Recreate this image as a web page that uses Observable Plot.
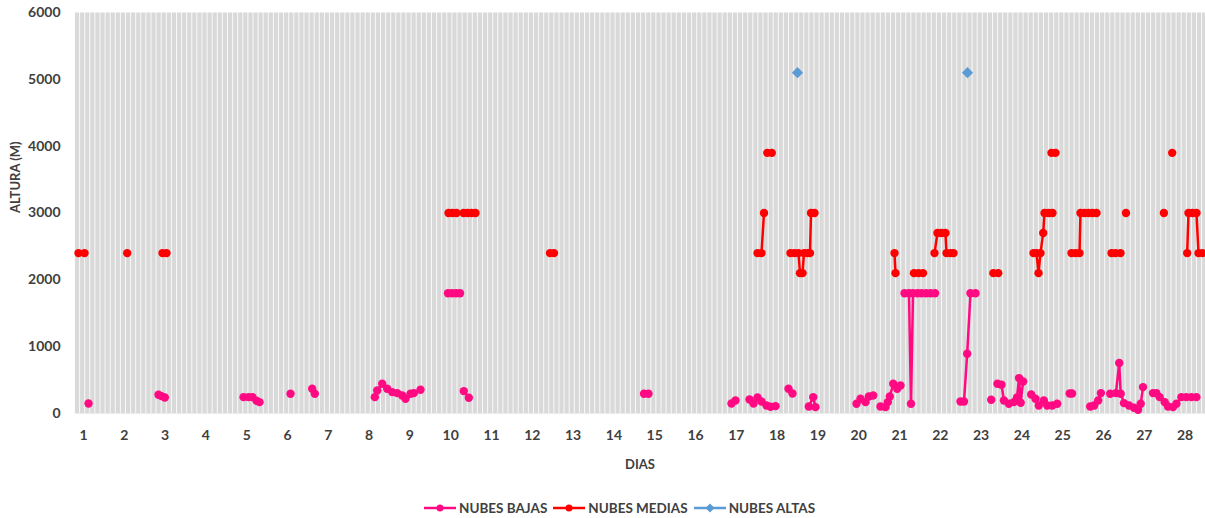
<!DOCTYPE html>
<html>
<head>
<meta charset="utf-8">
<script src="https://cdn.jsdelivr.net/npm/d3@7"></script>
<script src="https://cdn.jsdelivr.net/npm/@observablehq/plot@0.6"></script>
<style>
  html, body { margin: 0; padding: 0; background: #fff; }
  body { width: 1205px; height: 518px; overflow: hidden; font-family: Lato, "Open Sans", sans-serif; }
  #legend { display: flex; align-items: center; margin-left: 424px; margin-top: 20px; font-weight: 700; font-size: 13.5px; color: #404040; }
  #legend .item { display: flex; align-items: center; margin-right: 6px; }
  #legend svg { margin-right: 3px; }
</style>
</head>
<body>
<div id="chart"></div>
<div id="legend"></div>
<script>
// ---- data (day, altitude in m); null = gap in series ----
const bajasDia = [
  1.123, null,
  2.838, 2.912, 2.993, null,
  4.922, 5.044, 5.142, 5.240, 5.314, null,
  6.074, null,
  6.605, 6.669, null,
  8.140, 8.199, 8.321, 8.444, 8.566, 8.689, 8.811, 8.892, 9.015, 9.096, 9.260, null,
  9.934, 10.032, 10.130, 10.228, null,
  10.321, 10.444, null,
  14.738, 14.848, null,
  16.882, 16.980, null,
  17.324, 17.422, 17.520, 17.618, 17.740, 17.838, 17.961, null,
  18.279, 18.377, null,
  18.777, 18.885, 18.941, null,
  19.946, 20.044, 20.167, 20.248, 20.355, null,
  20.534, 20.657, 20.713, 20.762, 20.846, 20.944, 21.025, null,
  21.123, 21.233, 21.282, 21.331, 21.441, 21.539, 21.650, 21.760, 21.870, null,
  22.495, 22.581, 22.659, 22.740, 22.863, null,
  23.248, null,
  23.40, 23.50, 23.56, 23.68, 23.80, 23.88, 23.93, 23.97, 24.03, null,
  24.228, 24.333, 24.414, 24.537, 24.620, 24.743, 24.865, null,
  25.17, 25.23, null,
  25.674, 25.772, 25.870, 25.936, null,
  26.164, 26.304, 26.385, 26.422, 26.502, 26.625, 26.747, 26.846, 26.912, 26.968, null,
  27.213, 27.296, 27.377, 27.500, 27.581, 27.703, 27.787, 27.909, 28.032, 28.154, 28.277
];
const bajasAltura = [
  150, null,
  280, 260, 240, null,
  245, 245, 245, 190, 170, null,
  295, null,
  370, 295, null,
  245, 345, 445, 370, 320, 305, 270, 220, 295, 305, 355, null,
  1800, 1800, 1800, 1800, null,
  335, 235, null,
  295, 295, null,
  150, 195, null,
  210, 150, 240, 180, 120, 100, 110, null,
  370, 300, null,
  105, 245, 95, null,
  145, 220, 170, 255, 270, null,
  105, 95, 170, 255, 445, 370, 420, null,
  1800, 1800, 145, 1800, 1800, 1800, 1800, 1800, 1800, null,
  180, 180, 895, 1800, 1800, null,
  205, null,
  445, 430, 195, 145, 170, 240, 530, 160, 480, null,
  285, 220, 120, 195, 120, 120, 145, null,
  300, 300, null,
  105, 120, 195, 305, null,
  295, 305, 755, 295, 155, 120, 85, 55, 145, 395, null,
  305, 305, 245, 170, 105, 95, 145, 245, 245, 245, 245
];
const mediasDia = [
  0.877, 1.025, null,
  2.071, null,
  2.936, 3.034, null,
  9.946, 10.044, 10.142, null,
  10.314, 10.412, 10.510, 10.608, null,
  12.434, 12.532, null,
  17.520, 17.618, 17.679, null,
  17.76, 17.87, null,
  18.328, 18.426, 18.525, 18.561, 18.623, 18.659, 18.745, 18.806, 18.831, 18.917, null,
  20.877, 20.902, null,
  21.355, 21.466, 21.576, null,
  21.858, 21.931, 22.029, 22.127, 22.152, 22.250, 22.324, null,
  23.30, 23.42, null,
  24.284, 24.358, 24.407, 24.456, 24.522, 24.554, 24.652, 24.750, null,
  24.725, 24.824, null,
  25.216, 25.314, 25.412, 25.436, 25.534, 25.632, 25.730, 25.828, null,
  26.196, 26.294, 26.417, null,
  26.551, null,
  27.480, null,
  27.684, null,
  28.051, 28.083, 28.181, 28.279, 28.328, 28.426
];
const mediasAltura = [
  2400, 2400, null,
  2400, null,
  2400, 2400, null,
  3000, 3000, 3000, null,
  3000, 3000, 3000, 3000, null,
  2400, 2400, null,
  2400, 2400, 3000, null,
  3900, 3900, null,
  2400, 2400, 2400, 2100, 2100, 2400, 2400, 2400, 3000, 3000, null,
  2400, 2100, null,
  2100, 2100, 2100, null,
  2400, 2700, 2700, 2700, 2400, 2400, 2400, null,
  2100, 2100, null,
  2400, 2400, 2100, 2400, 2700, 3000, 3000, 3000, null,
  3900, 3900, null,
  2400, 2400, 2400, 3000, 3000, 3000, 3000, 3000, null,
  2400, 2400, 2400, null,
  3000, null,
  3000, null,
  3900, null,
  2400, 3000, 3000, 3000, 2400, 2400
];
const altasDia = [18.5, null, 22.667];
const altasAltura = [5100, null, 5100];

const diasTicks = d3.range(1, 29);            // 1..28
const alturaTicks = [0, 1000, 2000, 3000, 4000, 5000, 6000];
const series = [
  {name: "NUBES BAJAS", color: "#ff0a82", symbol: "circle"},
  {name: "NUBES MEDIAS", color: "#ff0000", symbol: "circle"},
  {name: "NUBES ALTAS", color: "#5b9bd5", symbol: "diamond"}
];

const toRows = (xs, ys) => xs.map((d, i) => ({dia: d, altura: ys[i]}));
const bajas = toRows(bajasDia, bajasAltura);
const medias = toRows(mediasDia, mediasAltura);
const altas = toRows(altasDia, altasAltura);

const xDomain = [0.7794, 28.5];
const gridDias = d3.range(xDomain[0], xDomain[1], 0.125);

const chart = Plot.plot({
  width: 1205,
  height: 480,
  marginLeft: 74,
  marginRight: 0,
  marginTop: 12,
  marginBottom: 67,
  style: {fontFamily: "Lato, 'Open Sans', sans-serif", fontSize: "14px", fontWeight: 700, color: "#404040", background: "white"},
  x: {domain: xDomain},
  y: {domain: [0, 6000]},
  marks: [
    Plot.frame({fill: "#d9d9d9", stroke: "none"}),
    Plot.ruleX(gridDias, {stroke: "#ffffff", strokeWidth: 1, strokeOpacity: 0.85}),
    Plot.axisX(diasTicks, {tickSize: 0, tickPadding: 17, fontSize: 14, fontWeight: 700, fill: "#404040", label: null}),
    Plot.axisY(alturaTicks, {tickSize: 0, tickPadding: 14, fontSize: 14, fontWeight: 700, fill: "#404040", label: null, tickFormat: d => String(d)}),
    Plot.text(["DIAS"], {frameAnchor: "bottom", dy: 55, fontSize: 13, fontWeight: 700, fill: "#404040"}),
    Plot.text(["ALTURA (M)"], {frameAnchor: "left", dx: -59, rotate: -90, fontSize: 13, fontWeight: 700, fill: "#404040"}),
    Plot.line(bajas, {x: "dia", y: "altura", stroke: series[0].color, strokeWidth: 2.5}),
    Plot.dot(bajas, {x: "dia", y: "altura", fill: series[0].color, r: 4.2}),
    Plot.line(medias, {x: "dia", y: "altura", stroke: series[1].color, strokeWidth: 2.5}),
    Plot.dot(medias, {x: "dia", y: "altura", fill: series[1].color, r: 4.2}),
    Plot.line(altas, {x: "dia", y: "altura", stroke: series[2].color, strokeWidth: 2.5}),
    Plot.dot(altas, {x: "dia", y: "altura", fill: series[2].color, symbol: "diamond2", r: 5})
  ]
});
document.getElementById("chart").appendChild(chart);

const legend = d3.select("#legend");
series.forEach(s => {
  const item = legend.append("div").attr("class", "item");
  const sv = item.append("svg").attr("width", 32).attr("height", 12);
  sv.append("line").attr("x1", 0).attr("x2", 32).attr("y1", 6).attr("y2", 6)
    .attr("stroke", s.color).attr("stroke-width", 2.5);
  if (s.symbol === "diamond") {
    sv.append("path").attr("d", "M16,1.5L20.5,6L16,10.5L11.5,6Z").attr("fill", s.color);
  } else {
    sv.append("circle").attr("cx", 16).attr("cy", 6).attr("r", 3.5).attr("fill", s.color);
  }
  item.append("span").text(s.name);
});
</script>
</body>
</html>
